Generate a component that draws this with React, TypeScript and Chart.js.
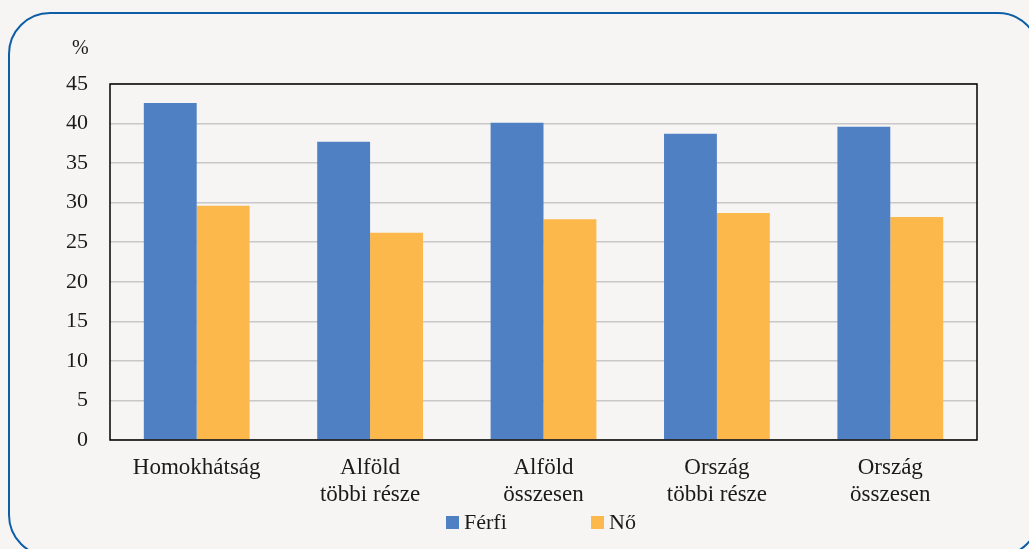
import React, { useEffect, useRef } from "react";
import { Chart, registerables } from "chart.js";

Chart.register(...registerables);

const categories: (string | string[])[] = [
  "Homokhátság",
  ["Alföld", "többi része"],
  ["Alföld", "összesen"],
  ["Ország", "többi része"],
  ["Ország", "összesen"],
];
const ferfiValues = [42.6, 37.7, 40.1, 38.7, 39.6];
const noValues = [29.6, 26.2, 27.9, 28.7, 28.2];
const seriesNames = ["Férfi", "Nő"];
const seriesColors = ["#5080c4", "#fcb84b"];
const yMin = 0;
const yMax = 45;
const yStep = 5;
const unitLabel = "%";

const FONT = "'Liberation Serif', 'Times New Roman', serif";

const frame = {
  id: "plotFrame",
  afterDatasetsDraw(chart: any) {
    const { ctx, chartArea } = chart;
    ctx.save();
    ctx.strokeStyle = "#000";
    ctx.lineWidth = 1.5;
    ctx.strokeRect(chartArea.left, chartArea.top, chartArea.right - chartArea.left, chartArea.bottom - chartArea.top);
    ctx.restore();
  },
};

export default function App() {
  const ref = useRef<HTMLCanvasElement>(null);
  useEffect(() => {
    if (!ref.current) return;
    const chart = new Chart(ref.current, {
      type: "bar",
      data: {
        labels: categories,
        datasets: [
          { label: seriesNames[0], data: ferfiValues, backgroundColor: seriesColors[0], categoryPercentage: 0.61, barPercentage: 1 },
          { label: seriesNames[1], data: noValues, backgroundColor: seriesColors[1], categoryPercentage: 0.61, barPercentage: 1 },
        ],
      },
      options: {
        animation: false,
        responsive: false,
        devicePixelRatio: 1,
        layout: { padding: { left: 0, top: 84, right: 52, bottom: 29 } },
        plugins: { legend: { display: false }, tooltip: { enabled: false } },
        scales: {
          x: {
            grid: { display: false, drawTicks: false },
            border: { display: false },
            ticks: { color: "#1a1a1a", font: { family: FONT, size: 23, lineHeight: 1.2 }, padding: 14, maxRotation: 0, autoSkip: false },
            afterFit: (s: any) => { s.height = 80; },
          },
          y: {
            min: yMin,
            max: yMax,
            grid: { color: "#c8c8c8", lineWidth: 1.5, drawTicks: false },
            border: { display: false },
            ticks: { stepSize: yStep, color: "#1a1a1a", font: { family: FONT, size: 22 }, padding: 22 },
            afterFit: (s: any) => { s.width = 110; },
          },
        },
      },
      plugins: [frame],
    });
    return () => chart.destroy();
  }, []);

  return (
    <div style={{ position: "fixed", left: 0, top: 0, width: 1029, height: 549, overflow: "hidden", background: "#f6f5f3", fontFamily: FONT }}>
      <div style={{ position: "absolute", left: 8, top: 12, width: 1032, height: 545, border: "2.5px solid #0d5ea6", borderRadius: 42, boxSizing: "border-box" }} />
      <canvas ref={ref} width={1029} height={549} style={{ position: "absolute", left: 0, top: 0, width: 1029, height: 549 }} />
      <div style={{ position: "absolute", left: 72, top: 36, fontSize: 20, color: "#1a1a1a" }}>{unitLabel}</div>
      {seriesNames.map((name, i) => (
        <div key={name} style={{ position: "absolute", left: i === 0 ? 446 : 591, top: 509, display: "flex", alignItems: "center", fontSize: 22, color: "#1a1a1a" }}>
          <span style={{ display: "inline-block", width: 13, height: 13, background: seriesColors[i], marginRight: 5 }} />
          <span>{name}</span>
        </div>
      ))}
    </div>
  );
}
